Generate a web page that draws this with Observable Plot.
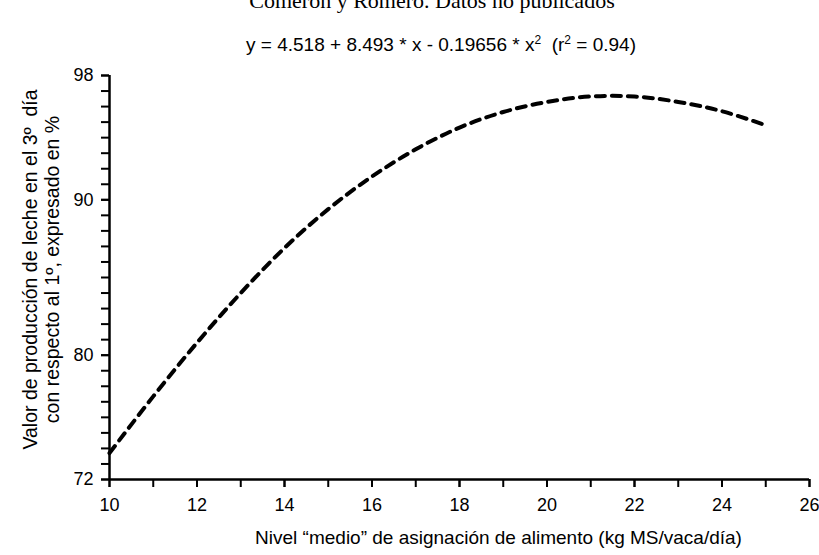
<!DOCTYPE html>
<html><head><meta charset="utf-8">
<script src="https://cdn.jsdelivr.net/npm/d3@7"></script>
<script src="https://cdn.jsdelivr.net/npm/@observablehq/plot@0.6"></script>
<style>
html,body{margin:0;padding:0;background:#fff;}
#fig{position:relative;width:819px;height:555px;overflow:hidden;background:#fff;}
#title{position:absolute;left:432px;top:-10px;transform:translateX(-50%);font:22px "Liberation Serif","Times New Roman",serif;line-height:22px;color:#000;white-space:nowrap;}
#eq{position:absolute;left:441px;top:35px;transform:translateX(-50%);font:19px "Liberation Sans",Arial,sans-serif;line-height:20px;color:#000;white-space:nowrap;}
#eq sup{font-size:12px;vertical-align:7px;line-height:0;}
#chart{position:absolute;left:0;top:58px;}
</style>
</head><body>
<div id="fig">
  <div id="title">Comerón y Romero. Datos no publicados</div>
  <div id="eq">y = 4.518 + 8.493 * x - 0.19656 * x<sup>2</sup>&nbsp;&nbsp;(r<sup>2</sup> = 0.94)</div>
  <div id="chart"></div>
</div>
<script>
// Curve
const xValues = [10, 11, 12, 13, 14, 15, 16, 17, 18, 19, 20, 21, 22, 23, 24, 25];
const yValues = [73.7, 77.35, 80.8, 84.0, 86.9, 89.4, 91.5, 93.25, 94.65, 95.65, 96.3, 96.65, 96.65, 96.3, 95.7, 94.8];

// Axes
const xDomain = [10, 26];
const yDomain = [72, 98];
const xMinorTicks = d3.range(10, 27, 1);
const xLabelTicks = [10, 12, 14, 16, 18, 20, 22, 24, 26];
const yMinorTicks = d3.range(72, 99, 1);
const yLabelTicks = [72, 80, 90, 98];

const xTitle = "Nivel “medio” de asignación de alimento (kg MS/vaca/día)";
const yTitleLines = ["Valor de producción de leche en el 3º  día", "con respecto al 1º, expresado en %"];

const curve = xValues.map((x, i) => ({x, y: yValues[i]}));

const plot = Plot.plot({
  width: 819,
  height: 497,
  marginTop: 17,
  marginBottom: 76,
  marginLeft: 109,
  marginRight: 10,
  style: {fontFamily: "'Liberation Sans', Arial, sans-serif", fontSize: "18px", color: "#000", background: "#fff"},
  x: {domain: xDomain},
  y: {domain: yDomain},
  marks: [
    Plot.axisY(yMinorTicks, {tickSize: 8, strokeWidth: 2, fill: "none", label: null}),
    Plot.axisY(yLabelTicks, {tickSize: 8, strokeWidth: 2, tickPadding: 8, label: null}),
    Plot.axisX(xMinorTicks, {tickSize: 8, strokeWidth: 2, fill: "none", label: null}),
    Plot.axisX(xLabelTicks, {tickSize: 8, strokeWidth: 2, tickPadding: 11, label: null}),
    Plot.ruleX([xDomain[0]], {stroke: "#000", strokeWidth: 2.5}),
    Plot.ruleY([yDomain[0]], {stroke: "#000", strokeWidth: 2.5}),
    Plot.line(curve, {x: "x", y: "y", stroke: "#000", strokeWidth: 4, strokeDasharray: "9,7", curve: "catmull-rom"}),
    Plot.text([yTitleLines[0]], {text: d => d, frameAnchor: "left", textAnchor: "middle", rotate: -90, dx: -79, dy: -8, fontSize: 19.5, fill: "#000"}),
    Plot.text([yTitleLines[1]], {text: d => d, frameAnchor: "left", textAnchor: "middle", rotate: -90, dx: -57, dy: -8, fontSize: 19.5, fill: "#000"}),
    Plot.text([xTitle], {text: d => d, frameAnchor: "bottom", dx: 39, dy: 64, fontSize: 19, fill: "#000"})
  ]
});
document.getElementById("chart").appendChild(plot);
</script>
</body></html>
